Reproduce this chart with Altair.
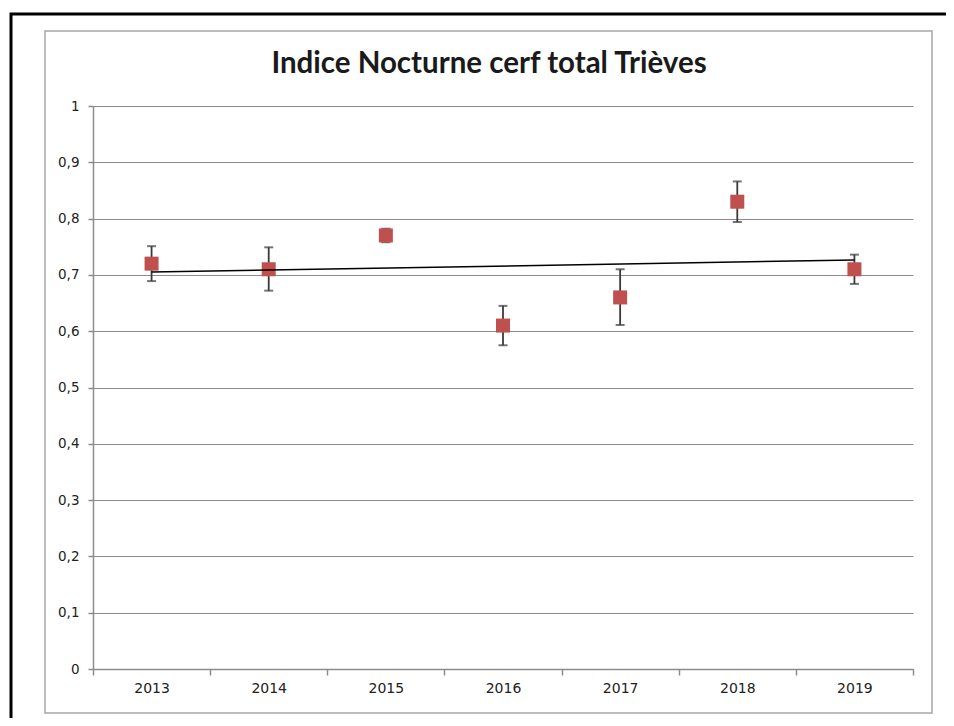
import altair as alt
import pandas as pd

years = ["2013", "2014", "2015", "2016", "2017", "2018", "2019"]
values = [0.72, 0.71, 0.77, 0.61, 0.66, 0.83, 0.71]
err_low = [0.689, 0.672, 0.758, 0.575, 0.611, 0.794, 0.684]
err_high = [0.751, 0.749, 0.782, 0.645, 0.710, 0.866, 0.736]
y_ticks = [0, 0.1, 0.2, 0.3, 0.4, 0.5, 0.6, 0.7, 0.8, 0.9, 1.0]
title_text = "Indice Nocturne cerf total Trièves"

df = pd.DataFrame({
    "Year": years,
    "idx": list(range(len(years))),
    "value": values,
    "lo": err_low,
    "hi": err_high,
})

W, H = 820, 563
GRID = "#8c8c8c"
RED = "#C0504D"
ERR = "#3a3a3a"

x_enc = alt.X(
    "Year:O",
    sort=years,
    scale=alt.Scale(paddingInner=0, paddingOuter=0),
    axis=alt.Axis(
        title=None, labelAngle=0, tickBand="extent", grid=False,
        domainColor=GRID, domainWidth=1.5, tickColor=GRID, tickSize=6, tickWidth=1.5,
        labelFont="DejaVu Sans", labelFontSize=14, labelColor="#222222", labelPadding=6,
    ),
)
y_scale = alt.Scale(domain=[0, 1], nice=False, zero=True)
y_axis = alt.Axis(
    title=None, values=y_ticks, grid=True, gridColor=GRID, gridWidth=1.2,
    domainColor=GRID, domainWidth=1.5, tickColor=GRID, tickSize=5, tickWidth=1.5,
    labelExpr="replace(format(datum.value, '~g'), '.', ',')",
    labelFont="DejaVu Sans", labelFontSize=13.5, labelColor="#222222", labelPadding=9,
)

base = alt.Chart(df)

rules = base.mark_rule(color=ERR, strokeWidth=1.8).encode(
    x=x_enc,
    y=alt.Y("lo:Q", scale=y_scale, axis=y_axis),
    y2="hi:Q",
)
caps_lo = base.mark_tick(color=ERR, size=9, thickness=2).encode(
    x=x_enc, y=alt.Y("lo:Q", scale=y_scale)
)
caps_hi = base.mark_tick(color=ERR, size=9, thickness=2).encode(
    x=x_enc, y=alt.Y("hi:Q", scale=y_scale)
)
points = base.mark_square(color=RED, size=196, opacity=1).encode(
    x=x_enc, y=alt.Y("value:Q", scale=y_scale)
)
trend = (
    base.transform_regression("idx", "value", method="linear")
    .transform_filter("datum.idx == floor(datum.idx)")
    .transform_calculate(Year="toString(2013 + datum.idx)")
    .mark_line(color="#000000", strokeWidth=1.5)
    .encode(x=x_enc, y=alt.Y("value:Q", scale=y_scale))
)

one = alt.Data(values=[{"k": 1}])
inner_frame = alt.Chart(one).mark_rect(
    filled=False, stroke="#a6a6a6", strokeWidth=1.5
).encode(
    x=alt.value(-48), x2=alt.value(839), y=alt.value(-75), y2=alt.value(607)
)
outer_frame = alt.Chart(one).mark_rect(
    filled=False, stroke="#000000", strokeWidth=3
).encode(
    x=alt.value(-82), x2=alt.value(900), y=alt.value(-92), y2=alt.value(700)
)
title = alt.Chart(one).mark_text(
    text=title_text, font="Lato", fontSize=29.5, fontWeight="bold",
    color="#1a1a1a", align="center", baseline="alphabetic",
).encode(x=alt.value(396), y=alt.value(-33))

chart = (
    alt.layer(outer_frame, inner_frame, rules, caps_lo, caps_hi, points, trend, title)
    .properties(
        width=W,
        height=H,
        padding={"left": 85, "top": 98, "right": 33, "bottom": 49},
        autosize=alt.AutoSizeParams(type="none"),
        background="#ffffff",
    )
    .configure_view(stroke=None)
)

chart.save("out.html", embed_options={"renderer": "svg", "actions": False})
